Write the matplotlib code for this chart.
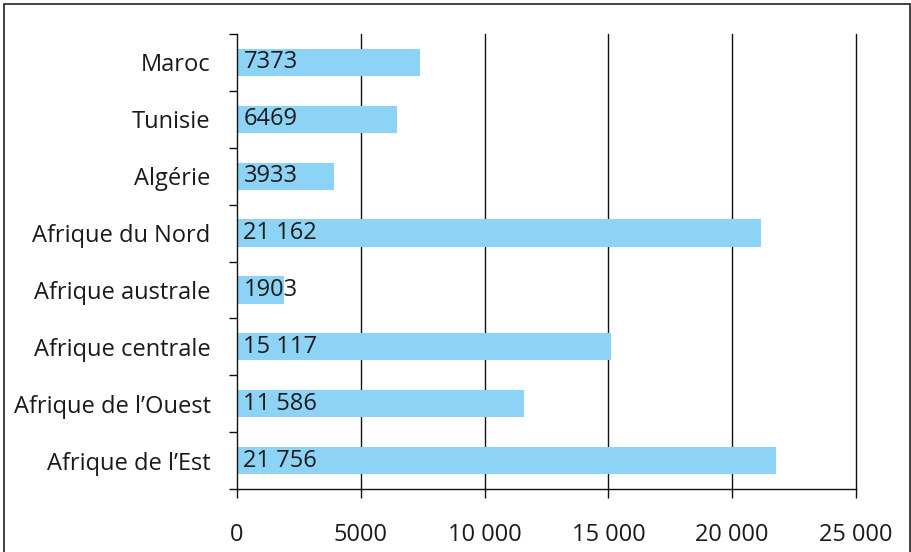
import matplotlib.pyplot as plt
from matplotlib.patches import Rectangle
from matplotlib.ticker import FixedLocator

plt.rcParams['font.family'] = ['Open Sans', 'DejaVu Sans']

regions = ["Maroc", "Tunisie", "Algérie", "Afrique du Nord", "Afrique australe",
           "Afrique centrale", "Afrique de l\u2019Ouest", "Afrique de l\u2019Est"]
values = [7373, 6469, 3933, 21162, 1903, 15117, 11586, 21756]
value_labels = ["7373", "6469", "3933", "21 162", "1903", "15 117", "11 586", "21 756"]
x_ticks = [0, 5000, 10000, 15000, 20000, 25000]
x_tick_labels = ["0", "5000", "10 000", "15 000", "20 000", "25 000"]

fig = plt.figure(figsize=(9.12, 5.52), dpi=100)
ax = fig.add_axes([237 / 912, 63 / 552, 619 / 912, 455 / 552])

n = len(regions)
ypos = [n - 1 - i for i in range(n)]
ax.barh(ypos, values, height=0.48, color="#8DD3F5", zorder=2)
for y, lab in zip(ypos, value_labels):
    ax.text(260, y, lab, va="center", ha="left", fontsize=17, color="#1a1a1a", zorder=3)

ax.set_xlim(0, 25000)
ax.set_ylim(-0.5, n - 0.5)

# gridlines
for xv in x_ticks[1:]:
    ax.axvline(xv, color="#111111", lw=1.0, zorder=1, clip_on=False)

ax.set_xticks(x_ticks)
ax.set_xticklabels(x_tick_labels, fontsize=17, color="#1a1a1a")
ax.tick_params(axis="x", length=6.5, width=1.0, pad=18, color="#111111")

ax.set_yticks(ypos)
ax.set_yticklabels(regions, fontsize=17, color="#1a1a1a")
ax.yaxis.set_minor_locator(FixedLocator([i - 0.5 for i in range(n + 1)]))
ax.tick_params(axis="y", which="major", length=0, pad=19)
ax.tick_params(axis="y", which="minor", length=6, width=1.0, color="#111111")

for s in ["top", "right"]:
    ax.spines[s].set_visible(False)
for s in ["left", "bottom"]:
    ax.spines[s].set_color("#111111")
    ax.spines[s].set_linewidth(1.0)

# frame around the figure
fig.patches.append(Rectangle((4 / 912, -0.05), 906 / 912, 1.05 - 4 / 552,
                             transform=fig.transFigure, fill=False,
                             edgecolor="#333333", lw=1.3))

fig.savefig("out.png", dpi=100)
